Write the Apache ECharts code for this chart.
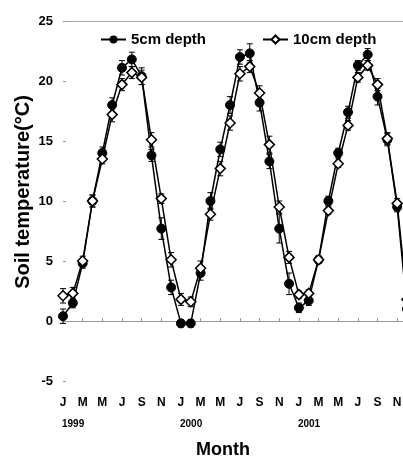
<!DOCTYPE html>
<html>
<head>
<meta charset="utf-8">
<script src="https://cdn.jsdelivr.net/npm/echarts@6/dist/echarts.min.js"></script>
<style>html,body{margin:0;padding:0;background:#fff;}#c{width:403px;height:462px;}</style>
</head>
<body>
<div id="c"></div>
<script>
var months = ['J','F','M','A','M','J','J','A','S','O','N','D',
              'J','F','M','A','M','J','J','A','S','O','N','D',
              'J','F','M','A','M','J','J','A','S','O','N','D'];
var years = ['1999','2000','2001'];
var temp5 = [0.4, 1.5, 4.8, 10.0, 14.0, 18.0, 21.1, 21.8, 20.4, 13.8, 7.7, 2.8,
             -0.2, -0.2, 4.0, 10.0, 14.3, 18.0, 22.0, 22.3, 18.2, 13.3, 7.7, 3.1,
             1.1, 1.7, 5.1, 10.0, 14.0, 17.4, 21.3, 22.2, 18.7, 15.1, 9.5, 1.0];
var temp10 = [2.1, 2.3, 5.0, 10.0, 13.5, 17.2, 19.7, 20.7, 20.3, 15.1, 10.2, 5.1,
              1.8, 1.6, 4.4, 8.9, 12.7, 16.5, 20.6, 21.2, 19.0, 14.7, 9.5, 5.3,
              2.2, 2.3, 5.1, 9.2, 13.1, 16.3, 20.3, 21.3, 19.7, 15.2, 9.8, 1.8];
var err5 = [0.6, 0.4, 0.4, 0.5, 0.5, 0.6, 0.6, 0.6, 0.7, 0.5, 0.9, 0.6,
            0.3, 0.3, 0.6, 0.7, 0.6, 0.7, 0.6, 0.8, 0.7, 0.6, 1.2, 0.9,
            0.4, 0.4, 0.3, 0.4, 0.4, 0.5, 0.4, 0.5, 0.7, 0.5, 0.4, 0.4];
var err10 = [0.6, 0.5, 0.4, 0.5, 0.4, 0.6, 0.5, 0.5, 0.6, 0.6, 0.4, 0.6,
             0.5, 0.4, 0.6, 0.5, 0.6, 0.6, 0.6, 0.5, 0.6, 0.7, 0.5, 0.5,
             0.3, 0.3, 0.3, 0.3, 0.3, 0.4, 0.4, 0.4, 0.5, 0.5, 0.4, 0.4];
var seriesNames = ['5cm depth', '10cm depth'];
var yMin = -5, yMax = 25, yStep = 5;

var FONT = '"Liberation Sans", Arial, sans-serif';

function errData(vals, errs) {
  return vals.map(function (v, i) { return [i, v - errs[i], v + errs[i]]; });
}
function renderErr(params, api) {
  var lo = api.coord([api.value(0), api.value(1)]);
  var hi = api.coord([api.value(0), api.value(2)]);
  var cw = 3;
  var st = { stroke: '#000', lineWidth: 1 };
  return {
    type: 'group',
    children: [
      { type: 'line', shape: { x1: lo[0], y1: lo[1], x2: hi[0], y2: hi[1] }, style: st },
      { type: 'line', shape: { x1: lo[0] - cw, y1: lo[1], x2: lo[0] + cw, y2: lo[1] }, style: st },
      { type: 'line', shape: { x1: hi[0] - cw, y1: hi[1], x2: hi[0] + cw, y2: hi[1] }, style: st }
    ]
  };
}

var chart = echarts.init(document.getElementById('c'), null, { renderer: 'canvas' });
chart.setOption({
  animation: false,
  backgroundColor: '#fff',
  textStyle: { fontFamily: FONT },
  grid: { left: 63, right: -4, top: 21, bottom: 81, containLabel: false, outerBoundsMode: 'none' },
  legend: [
    { data: [seriesNames[0]], left: 95, top: 27, itemWidth: 25, itemHeight: 10,
      textStyle: { fontFamily: FONT, fontWeight: 'bold', fontSize: 15, color: '#000' } },
    { data: [seriesNames[1]], left: 257, top: 27, itemWidth: 25, itemHeight: 10,
      textStyle: { fontFamily: FONT, fontWeight: 'bold', fontSize: 15, color: '#000' } }
  ],
  xAxis: [
    {
      type: 'category', data: months, boundaryGap: false, position: 'bottom',
      axisLine: { show: true, lineStyle: { color: '#999', width: 1 } },
      axisTick: { show: true, inside: true, length: 3, interval: 1, lineStyle: { color: '#999' } },
      axisLabel: { interval: 1, margin: 16, fontFamily: FONT, fontWeight: 'bold', fontSize: 12, color: '#000' },
      splitLine: { show: false },
      name: 'Month', nameLocation: 'middle', nameGap: 60, nameMoveOverlap: false,
      nameTextStyle: { fontFamily: FONT, fontWeight: 'bold', fontSize: 18, color: '#000', padding: [0, 24, 0, 0] }
    },
    {
      type: 'category', data: months, boundaryGap: false, position: 'bottom',
      axisLine: { show: false }, axisTick: { show: false },
      axisLabel: {
        interval: function (idx) { return idx % 12 === 0; },
        formatter: function (v, idx) { return years[Math.floor(idx / 12)] || ''; },
        align: 'left', margin: 38, padding: [0, 0, 0, -1],
        fontFamily: FONT, fontWeight: 'bold', fontSize: 10, color: '#000'
      },
      splitLine: { show: false }
    },
    {
      type: 'category', data: months, boundaryGap: false, position: 'top',
      axisLine: { show: true, lineStyle: { color: '#aaa', width: 1 } },
      axisTick: { show: false }, axisLabel: { show: false }, splitLine: { show: false }
    }
  ],
  yAxis: {
    type: 'value', min: yMin, max: yMax, interval: yStep,
    axisLine: { show: false },
    axisTick: { show: true, inside: true, length: 3, lineStyle: { color: '#999' } },
    axisLabel: { margin: 10, fontFamily: FONT, fontWeight: 'bold', fontSize: 13, color: '#000' },
    splitLine: { show: false },
    name: 'Soil temperature(°C)', nameLocation: 'middle', nameRotate: 90, nameGap: 30, nameMoveOverlap: false,
    nameTextStyle: { fontFamily: FONT, fontWeight: 'bold', fontSize: 20, color: '#000', padding: [0, 0, 0, 18] }
  },
  series: [
    { type: 'custom', name: 'err5', renderItem: renderErr, data: errData(temp5, err5),
      encode: { x: 0, y: [1, 2] }, z: 1, silent: true },
    { type: 'custom', name: 'err10', renderItem: renderErr, data: errData(temp10, err10),
      encode: { x: 0, y: [1, 2] }, z: 1, silent: true },
    { type: 'line', name: seriesNames[0], data: temp5, symbol: 'circle', symbolSize: 9,
      showAllSymbol: true,
      lineStyle: { color: '#000', width: 1.5 }, itemStyle: { color: '#000', borderColor: '#000' },
      z: 2 },
    { type: 'line', name: seriesNames[1], data: temp10, symbol: 'diamond', symbolSize: 10,
      showAllSymbol: true,
      lineStyle: { color: '#000', width: 1.5 },
      itemStyle: { color: '#fff', borderColor: '#000', borderWidth: 1.5 }, z: 3 }
  ]
});
</script>
</body>
</html>
